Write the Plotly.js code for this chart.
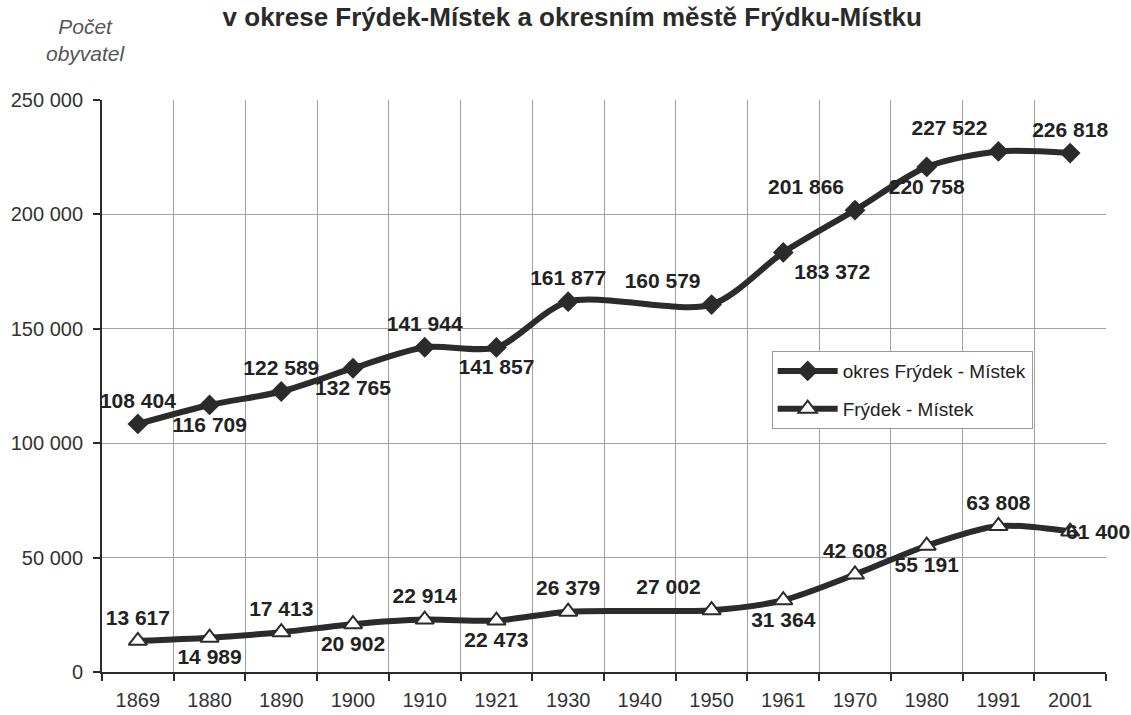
<!DOCTYPE html>
<html>
<head>
<meta charset="utf-8">
<script src="https://cdn.plot.ly/plotly-3.0.1.min.js"></script>
<style>
  html, body { margin: 0; padding: 0; background: #fff; }
  #graph1 { width: 1131px; height: 715px; }
</style>
</head>
<body>
<div id="graph1"></div>
<script>
// census years (1940 had no census, the line just runs through it)
let years = ["1869", "1880", "1890", "1900", "1910", "1921", "1930", "1940", "1950", "1961", "1970", "1980", "1991", "2001"];
let okres = [108404, 116709, 122589, 132765, 141944, 141857, 161877, null, 160579, 183372, 201866, 220758, 227522, 226818];
let mesto = [13617, 14989, 17413, 20902, 22914, 22473, 26379, null, 27002, 31364, 42608, 55191, 63808, 61400];

let okresPos = ["top center", "bottom center", "top center", "bottom center", "top center", "bottom center", "top center", "top center",
	"top left", "bottom right", "top left", "bottom center", "top left", "top center"];
let mestoPos = ["top center", "bottom center", "top center", "bottom center", "top center", "bottom center", "top center", "top center",
	"top left", "bottom center", "top center", "bottom center", "top center", "middle right"];

let font = "Arial, 'Liberation Sans', sans-serif";
let ink = "#2b2b2b";
let labelFont = { family: font, size: 21, color: '#222', weight: 'bold' };

let last = mesto.length - 1;

// the last town label sits right of its marker, past the plot edge -> annotation
let mestoText = mesto.map((v, i) => i === last ? '' : '%{y:,d}');

let okresTrace = {
	type: 'scatter',
	mode: 'lines+markers+text',
	name: 'okres Frýdek - Místek',
	legendgroup: 'a',
	x: years,
	y: okres,
	connectgaps: true,
	line: { color: ink, width: 6, shape: 'spline', smoothing: 0.8 },
	marker: { symbol: 'diamond', size: 16, color: ink },
	texttemplate: '%{y:,d}',
	textposition: okresPos,
	textfont: labelFont,
	cliponaxis: false,
};

let mestoTrace = {
	type: 'scatter',
	mode: 'lines+markers+text',
	name: 'Frýdek - Místek',
	legendgroup: 'b',
	x: years,
	y: mesto,
	connectgaps: true,
	line: { color: ink, width: 6, shape: 'spline', smoothing: 0.8 },
	marker: { symbol: 'triangle-up', size: 16, color: '#ffffff', line: { color: ink, width: 2 } },
	texttemplate: mestoText,
	textposition: mestoPos,
	textfont: labelFont,
	cliponaxis: false,
};

// same number format as the trace labels: thousands split by a space
let lastLabel = String(mesto[last]).replace(/\B(?=(\d{3})+(?!\d))/g, ' ');

let layout = {
	width: 1131,
	height: 715,
	margin: { l: 102, r: 25, t: 100, b: 43 },
	paper_bgcolor: '#ffffff',
	plot_bgcolor: '#ffffff',
	separators: ', ',
	font: { family: font, size: 20, color: ink },
	showlegend: true,
	title: {
		text: '<b>v okrese Frýdek-Místek a okresním městě Frýdku-Místku</b>',
		font: { family: font, size: 26, color: '#2a2a2a' },
		x: 0.506, xanchor: 'center',
		y: 0.976, yanchor: 'middle',
		yref: 'container',
	},
	xaxis: {
		type: 'category',
		tickson: 'boundaries',
		ticks: 'outside',
		ticklen: 7,
		tickwidth: 2,
		tickcolor: ink,
		ticklabelstandoff: 9,
		showgrid: true,
		gridcolor: '#a0a0a0',
		gridwidth: 1,
		showline: true,
		linecolor: ink,
		linewidth: 2,
		tickfont: { family: font, size: 20, color: '#333' },
		range: [-0.5, 13.5],
	},
	yaxis: {
		range: [0, 250000],
		dtick: 50000,
		tickformat: ',d',
		ticks: 'outside',
		ticklen: 7,
		tickwidth: 2,
		tickcolor: ink,
		ticklabelstandoff: 6,
		showgrid: true,
		gridcolor: '#a0a0a0',
		gridwidth: 1,
		zeroline: false,
		showline: true,
		linecolor: ink,
		linewidth: 2,
		tickfont: { family: font, size: 20, color: '#333' },
	},
	legend: {
		x: 0.667, xanchor: 'left',
		y: 0.561, yanchor: 'top',
		bgcolor: '#ffffff',
		bordercolor: '#9a9a9a',
		borderwidth: 1,
		font: { family: font, size: 19, color: '#222' },
		traceorder: 'grouped',
		tracegroupgap: 10,
		itemwidth: 60,
	},
	annotations: [{
		text: '<i>Počet<br>obyvatel</i>',
		xref: 'paper', yref: 'paper',
		x: -0.016, y: 1.105,
		xanchor: 'center', yanchor: 'middle',
		showarrow: false,
		align: 'center',
		font: { family: font, size: 21, color: '#555' },
	}, {
		text: lastLabel,
		x: last, y: mesto[last],
		xref: 'x', yref: 'y',
		xanchor: 'left', yanchor: 'middle',
		xshift: -6,
		showarrow: false,
		font: labelFont,
	}],
};

Plotly.newPlot('graph1', [okresTrace, mestoTrace], layout, { displayModeBar: false });
</script>
</body>
</html>
